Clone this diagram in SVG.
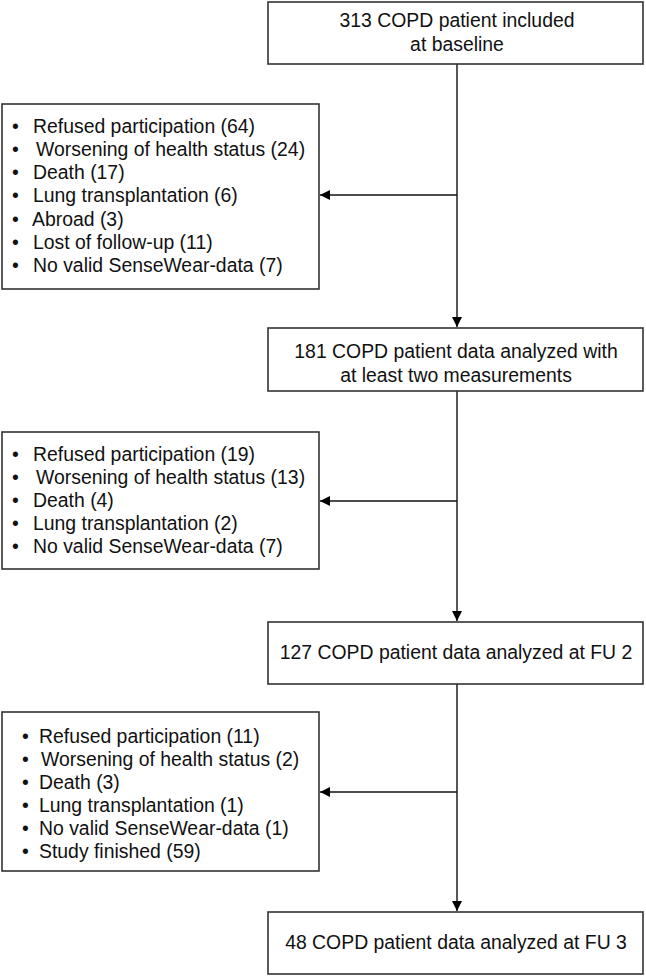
<svg xmlns="http://www.w3.org/2000/svg" width="646" height="976" viewBox="0 0 646 976">
<defs>
<marker id="ah" markerWidth="12" markerHeight="12" refX="10" refY="6" orient="auto" markerUnits="userSpaceOnUse">
<path d="M0,1 L10,6 L0,11 Z" fill="#000"/>
</marker>
<style>
.box{fill:#fff;stroke:#333;stroke-width:1.6}
.t{font-family:"Liberation Sans",Arial,sans-serif;font-size:19.4px;fill:#111}
.c{text-anchor:middle}
.ln{stroke:#111;stroke-width:1.4;fill:none}
</style>
</defs>
<rect width="646" height="976" fill="#fff"/>
<g id="connectors">
<line class="ln" x1="457" y1="64" x2="457" y2="327" marker-end="url(#ah)"/>
<line class="ln" x1="457" y1="195" x2="320" y2="195" marker-end="url(#ah)"/>
<line class="ln" x1="457" y1="391" x2="457" y2="621" marker-end="url(#ah)"/>
<line class="ln" x1="457" y1="501" x2="320" y2="501" marker-end="url(#ah)"/>
<line class="ln" x1="457" y1="684" x2="457" y2="911" marker-end="url(#ah)"/>
<line class="ln" x1="457" y1="792" x2="320" y2="792" marker-end="url(#ah)"/>
</g>
<g id="n1">
<rect class="box" x="268" y="2" width="375" height="62"/>
<text class="t c" x="457" y="27">313 COPD patient included</text>
<text class="t c" x="457" y="51">at baseline</text>
</g>
<g id="e1">
<rect class="box" x="2" y="104" width="317" height="185"/>
<g class="t">
<text x="12" y="133">•</text><text x="33" y="133">Refused participation (64)</text>
<text x="12" y="156">•</text><text x="36" y="156">Worsening of health status (24)</text>
<text x="12" y="179">•</text><text x="33" y="179">Death (17)</text>
<text x="12" y="202">•</text><text x="33" y="202">Lung transplantation (6)</text>
<text x="12" y="226">•</text><text x="32" y="226">Abroad (3)</text>
<text x="12" y="249">•</text><text x="33" y="249">Lost of follow-up (11)</text>
<text x="12" y="272">•</text><text x="33" y="272">No valid SenseWear-data (7)</text>
</g>
</g>
<g id="n2">
<rect class="box" x="268" y="328" width="375" height="63"/>
<text class="t c" x="456" y="358">181 COPD patient data analyzed with</text>
<text class="t c" x="456" y="382">at least two measurements</text>
</g>
<g id="e2">
<rect class="box" x="2" y="432" width="317" height="137"/>
<g class="t">
<text x="12" y="461">•</text><text x="33" y="461">Refused participation (19)</text>
<text x="12" y="484">•</text><text x="36" y="484">Worsening of health status (13)</text>
<text x="12" y="507">•</text><text x="33" y="507">Death (4)</text>
<text x="12" y="530">•</text><text x="33" y="530">Lung transplantation (2)</text>
<text x="12" y="553">•</text><text x="33" y="553">No valid SenseWear-data (7)</text>
</g>
</g>
<g id="n3">
<rect class="box" x="268" y="622" width="375" height="62"/>
<text class="t c" x="456" y="659">127 COPD patient data analyzed at FU 2</text>
</g>
<g id="e3">
<rect class="box" x="2" y="712" width="317" height="159"/>
<g class="t">
<text x="22" y="743">•</text><text x="39" y="743">Refused participation (11)</text>
<text x="22" y="766">•</text><text x="41" y="766">Worsening of health status (2)</text>
<text x="22" y="789">•</text><text x="39" y="789">Death (3)</text>
<text x="22" y="812">•</text><text x="39" y="812">Lung transplantation (1)</text>
<text x="22" y="835">•</text><text x="39" y="835">No valid SenseWear-data (1)</text>
<text x="22" y="858">•</text><text x="39" y="858">Study finished (59)</text>
</g>
</g>
<g id="n4">
<rect class="box" x="268" y="912" width="375" height="62"/>
<text class="t c" x="456" y="949">48 COPD patient data analyzed at FU 3</text>
</g>
</svg>
